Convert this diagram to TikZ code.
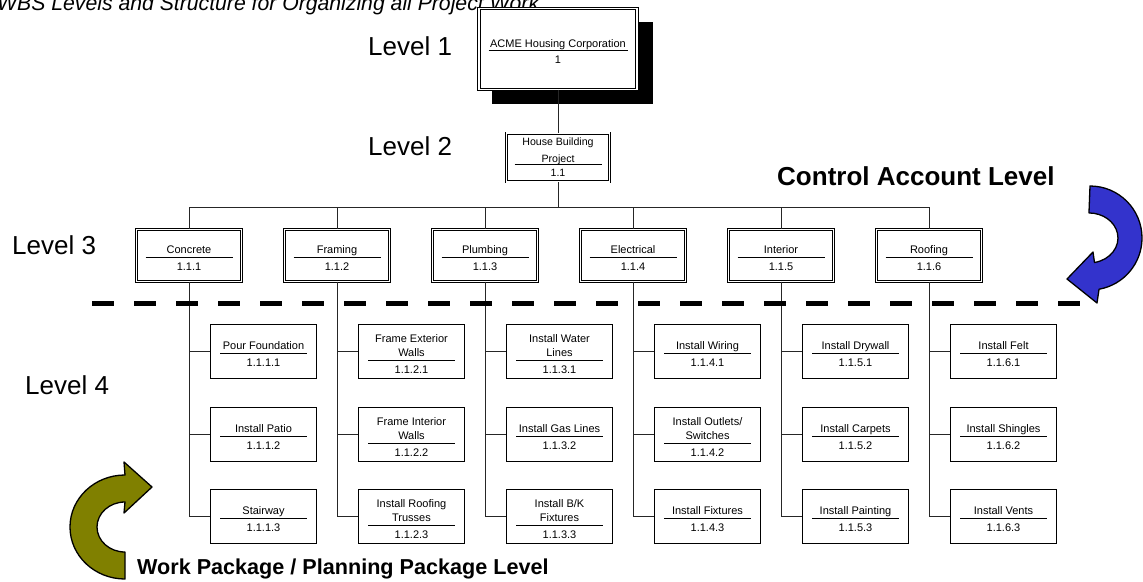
\documentclass[tikz,border=0pt]{standalone}
\usepackage{fontspec}
\setmainfont{Liberation Sans}
\usepackage{array}
\usetikzlibrary{calc}

\definecolor{arrowblue}{RGB}{51,51,204}
\definecolor{arrowolive}{RGB}{128,128,0}

% text block of a WBS element: title rows, a rule of fixed width, then the code
\newcommand\wbscell[3]{%
  \raisebox{-3.5pt}[\height][\depth]{%
  \begin{tabular}{@{}>{\centering\arraybackslash}p{#1}@{}}#2\\[-1pt]\hline\rule{0pt}{13pt}#3\end{tabular}}}

% a work package (single border)
\newcommand\wbsitem[5]{\node[pkgbox] (#1) at (#2,#3) {\wbscell{87pt}{#4}{#5}};}

\tikzset{
  wire/.style={line width=0.9pt, draw=black!85},
  boxfont/.style={font=\fontsize{11}{14}\selectfont},
  dblbox/.style={draw, double, double distance=1.8pt, line width=0.7pt,
    rectangle, inner sep=0pt, fill=white, boxfont},
  acctbox/.style={dblbox, minimum width=105pt, minimum height=52pt},
  pkgbox/.style={draw, line width=0.9pt, rectangle, inner sep=0pt, fill=white,
    minimum width=106pt, minimum height=54pt, boxfont},
  lvl/.style={anchor=base west, inner sep=0pt, font=\fontsize{26}{30}\selectfont},
  band/.style={anchor=base west, inner sep=0pt, font=\bfseries\fontsize{#1}{30}\selectfont},
  curvearrow/.style={draw=black, line width=1.3pt, line join=round},
}

\begin{document}
\begin{tikzpicture}[x=1pt, y=1pt]
\useasboundingbox (0,0) rectangle (1143,-581);

% heading
\node[anchor=base west, inner sep=0pt, font=\itshape\fontsize{21.2}{26}\selectfont]
  (title) at (-3,-10) {WBS Levels and Structure for Organizing all Project Work};

% level captions
\node[lvl] (lv1) at (368,-55.5) {Level 1};
\node[lvl] (lv2) at (368,-155.5) {Level 2};
\node[lvl] (lv3) at (12,-254.5) {Level 3};
\node[lvl] (lv4) at (25,-394.5) {Level 4};

% level 1: project owner with drop shadow
\fill[black] (492,-22) rectangle (653,-104);
\node[dblbox, minimum width=158pt, minimum height=81pt] (l1) at (558,-49)
  {\wbscell{139pt}{ACME Housing Corporation}{1}};

% level 2
\node[dblbox, minimum width=103pt, minimum height=48pt,
  font=\fontsize{10.6}{17}\selectfont] (l2) at (558,-157.5)
  {\begin{tabular}{@{}>{\centering\arraybackslash}p{87pt}@{}}House Building\\Project\\[-3pt]\hline\rule{0pt}{10pt}1.1\end{tabular}};

% level 3: control accounts
\node[acctbox] (c1) at (189,-255.5) {\wbscell{87pt}{Concrete}{1.1.1}};
\node[acctbox] (c2) at (337,-255.5) {\wbscell{87pt}{Framing}{1.1.2}};
\node[acctbox] (c3) at (485,-255.5) {\wbscell{87pt}{Plumbing}{1.1.3}};
\node[acctbox] (c4) at (633,-255.5) {\wbscell{87pt}{Electrical}{1.1.4}};
\node[acctbox] (c5) at (781,-255.5) {\wbscell{87pt}{Interior}{1.1.5}};
\node[acctbox] (c6) at (929,-255.5) {\wbscell{87pt}{Roofing}{1.1.6}};

% level 4: work packages
\wbsitem{c1a}{263.5}{-351.5}{Pour Foundation}{1.1.1.1}
\wbsitem{c1b}{263.5}{-434.5}{Install Patio}{1.1.1.2}
\wbsitem{c1c}{263.5}{-516.5}{Stairway}{1.1.1.3}

\wbsitem{c2a}{411.5}{-351.5}{Frame Exterior\\Walls}{1.1.2.1}
\wbsitem{c2b}{411.5}{-434.5}{Frame Interior\\Walls}{1.1.2.2}
\wbsitem{c2c}{411.5}{-516.5}{Install Roofing\\Trusses}{1.1.2.3}

\wbsitem{c3a}{559.5}{-351.5}{Install Water\\Lines}{1.1.3.1}
\wbsitem{c3b}{559.5}{-434.5}{Install Gas Lines}{1.1.3.2}
\wbsitem{c3c}{559.5}{-516.5}{Install B/K\\Fixtures}{1.1.3.3}

\wbsitem{c4a}{707.5}{-351.5}{Install Wiring}{1.1.4.1}
\wbsitem{c4b}{707.5}{-434.5}{Install Outlets/\\Switches}{1.1.4.2}
\wbsitem{c4c}{707.5}{-516.5}{Install Fixtures}{1.1.4.3}

\wbsitem{c5a}{855.5}{-351.5}{Install Drywall}{1.1.5.1}
\wbsitem{c5b}{855.5}{-434.5}{Install Carpets}{1.1.5.2}
\wbsitem{c5c}{855.5}{-516.5}{Install Painting}{1.1.5.3}

\wbsitem{c6a}{1003.5}{-351.5}{Install Felt}{1.1.6.1}
\wbsitem{c6b}{1003.5}{-434.5}{Install Shingles}{1.1.6.2}
\wbsitem{c6c}{1003.5}{-516.5}{Install Vents}{1.1.6.3}

% tree connectors
\draw[wire] (l1.south) -- (l2.north);
\coordinate (bus) at (558,-207);
\draw[wire] (l2.south) -- (bus);
\foreach \c in {c1,c2,c3,c4,c5,c6}{
  \draw[wire] (bus) -| (\c.north);
  \foreach \s in {a,b,c}{
    \draw[wire] (\c.south) |- (\c\s.west);
  }
}

% boundary between control accounts and work packages
\coordinate (sepL) at (92,-303);
\coordinate (sepR) at (1080,-303);
\draw[line width=5pt, dash pattern=on 22pt off 20pt] (sepL) -- (sepR);

% band captions
\node[band=26] (ctl) at (777,-185) {Control Account Level};
\node[band=21.6] (wp) at (137,-574) {Work Package / Planning Package Level};

% curved arrow, upper right
\filldraw[curvearrow, fill=arrowblue]
  (1090,-186) arc[start angle=90, end angle=-80, radius=52]
  -- (1097,-303) -- (1067,-279) -- (1093,-252) -- (1094.5,-262.5)
  arc[start angle=-79, end angle=90, x radius=29, y radius=25] -- cycle;

% curved arrow, lower left
\filldraw[curvearrow, fill=arrowolive]
  (125,-579) arc[start angle=-90, end angle=-270, x radius=55, y radius=52]
  -- (124,-462) -- (152,-487) -- (124,-513) -- (125,-502)
  arc[start angle=90, end angle=270, x radius=28, y radius=25] -- cycle;
\end{tikzpicture}
\end{document}
